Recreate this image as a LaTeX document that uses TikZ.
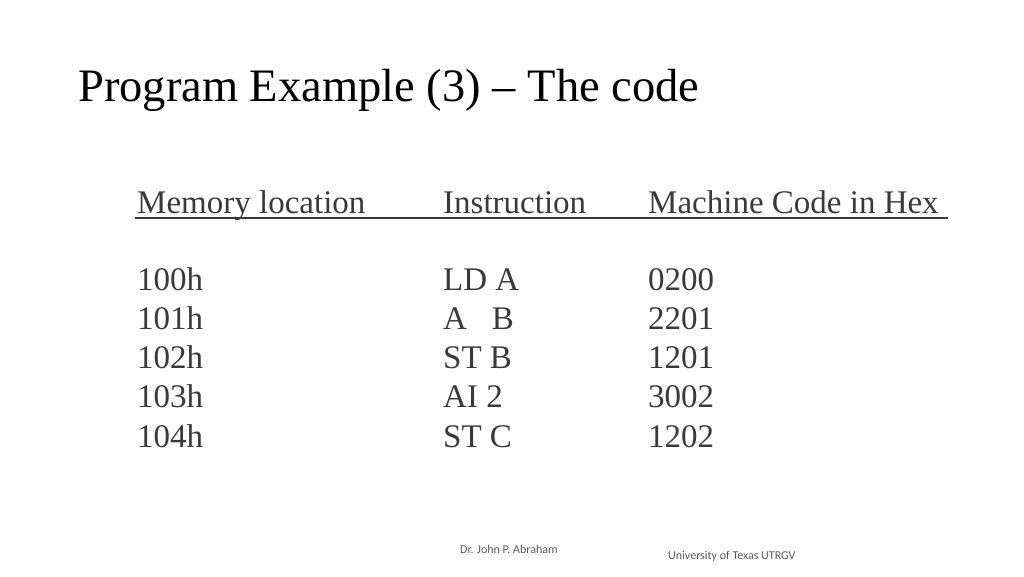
\documentclass[tikz,border=0pt]{standalone}
\usepackage{fontspec}
\setmainfont{Liberation Serif}
\newfontfamily\footfont{Carlito}
\definecolor{tab}{HTML}{3A3A3A}
\definecolor{foot}{HTML}{595959}
\begin{document}
\begin{tikzpicture}[x=1pt,y=-1pt,
  title/.style={anchor=base west,inner sep=0,font=\fontsize{46.5}{48}\selectfont},
  cell/.style={anchor=base west,inner sep=0,text=tab,font=\fontsize{33}{35}\selectfont},
  foottext/.style={anchor=base west,inner sep=0,text=foot,font=\footfont\fontsize{12}{13}\selectfont}]
\useasboundingbox (0,0) rectangle (1024,576);
\node[title] (t) at (78,101) {Program Example (3) – The code};
\node[cell] (h1) at (137,213) {Memory location};
\node[cell] (h2) at (443,213) {Instruction};
\node[cell] (h3) at (648,213) {Machine Code in Hex};
\draw[tab,line width=2pt] (135,218) -- (948,218);
\foreach \i/\a/\b/\c in {0/100h/LD A/0200,1/101h/A\ \ \ B/2201,2/102h/ST B/1201,3/103h/AI 2/3002,4/104h/ST C/1202}{
  \node[cell] (m\i) at (137,290+39.3*\i) {\a};
  \node[cell] (n\i) at (443,290+39.3*\i) {\b};
  \node[cell] (c\i) at (648,290+39.3*\i) {\c};
}
\node[foottext] (f1) at (460,553) {Dr. John P. Abraham};
\node[foottext] (f2) at (668,559) {University of Texas UTRGV};
\end{tikzpicture}
\end{document}
